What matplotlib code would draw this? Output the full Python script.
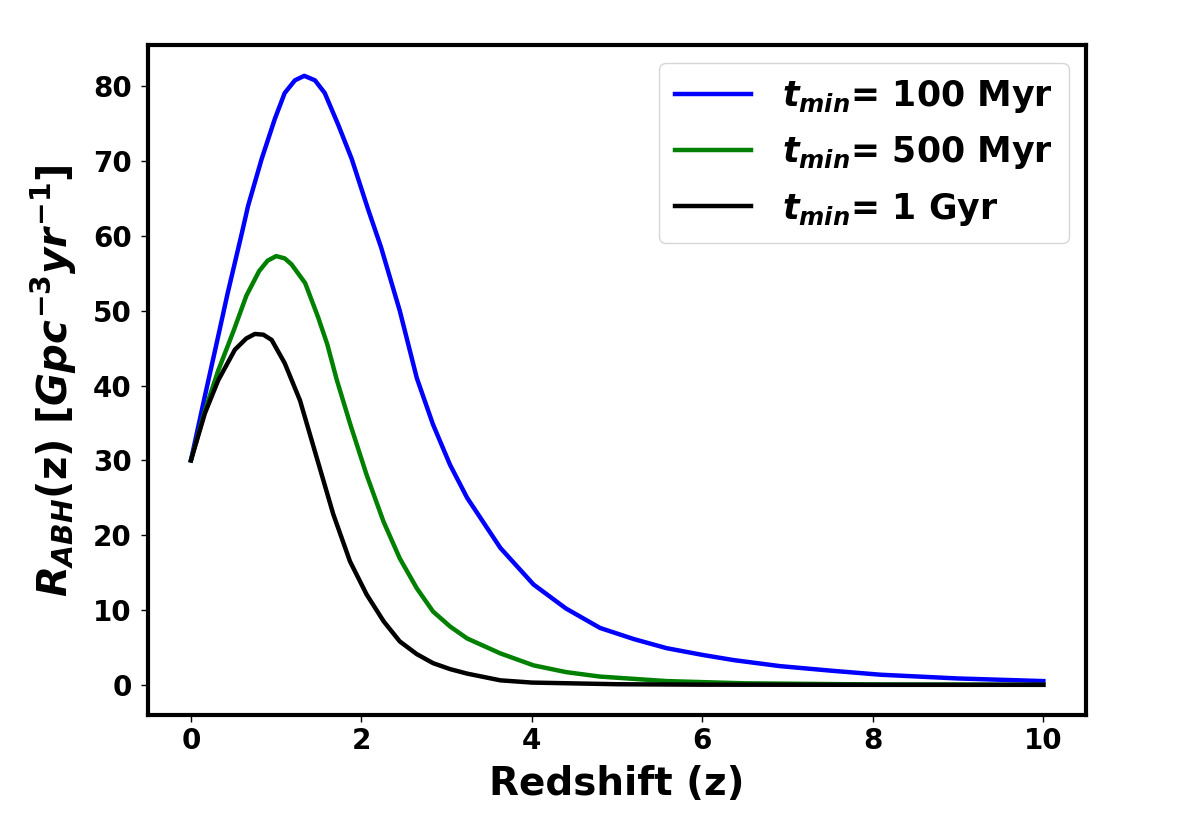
import numpy as np
import matplotlib
matplotlib.use('Agg')
import matplotlib.pyplot as plt

plt.rcParams['font.family'] = 'DejaVu Sans'
plt.rcParams['font.weight'] = 'bold'
plt.rcParams['mathtext.fontset'] = 'custom'
plt.rcParams['mathtext.rm'] = 'DejaVu Sans:bold'
plt.rcParams['mathtext.it'] = 'DejaVu Sans:bold:italic'
plt.rcParams['mathtext.bf'] = 'DejaVu Sans:bold'

# valores
z_100 = [0.0, 0.16, 0.32, 0.43, 0.6, 0.67, 0.83, 0.986, 1.1, 1.22, 1.33, 1.455, 1.57,
         1.73, 1.886, 2.08, 2.23, 2.45, 2.65, 2.84, 3.04, 3.24, 3.63, 4.02, 4.4,
         4.8, 5.2, 5.58, 6.0, 6.37, 6.91, 7.5, 8.09, 9.0, 10.0]
r_100 = [30.0, 38.4, 46.6, 52.3, 60.5, 64.0, 70.3, 75.7, 79.1, 80.8, 81.4, 80.8, 79.1,
         74.8, 70.3, 63.5, 58.5, 50.0, 41.0, 34.8, 29.4, 25.0, 18.3, 13.4, 10.2,
         7.6, 6.1, 4.9, 4.0, 3.3, 2.5, 1.9, 1.35, 0.85, 0.5]

z_500 = [0.0, 0.16, 0.32, 0.5, 0.65, 0.8, 0.9, 1.0, 1.1, 1.18, 1.34, 1.49, 1.6, 1.71,
         1.87, 2.06, 2.26, 2.45, 2.65, 2.84, 3.04, 3.24, 3.63, 4.02, 4.4, 4.8, 5.58,
         6.5, 8.0, 10.0]
r_500 = [30.0, 36.5, 42.0, 47.3, 52.0, 55.3, 56.7, 57.3, 57.0, 56.2, 53.7, 49.2, 45.5,
         40.8, 34.8, 28.1, 21.8, 16.9, 12.9, 9.8, 7.8, 6.2, 4.2, 2.6, 1.7, 1.1, 0.5,
         0.2, 0.05, 0.0]

z_1g = [0.0, 0.164, 0.32, 0.516, 0.65, 0.75, 0.85, 0.947, 1.1, 1.28, 1.475, 1.67,
        1.866, 2.06, 2.26, 2.45, 2.65, 2.84, 3.04, 3.24, 3.63, 4.0, 5.0, 6.0, 8.0, 10.0]
r_1g = [30.0, 36.3, 40.7, 44.8, 46.3, 46.9, 46.8, 46.1, 43.0, 38.0, 30.4, 22.8,
        16.5, 12.1, 8.5, 5.8, 4.1, 2.9, 2.1, 1.5, 0.6, 0.3, 0.08, 0.02, 0.0, 0.0]

fig = plt.figure(figsize=(11.96, 8.25), dpi=100)
ax = fig.add_axes([0.124, 0.133, 0.784, 0.812])

ax.plot(z_100, r_100, color='b', lw=3.2, label=r'$t_{min}$= 100 Myr')
ax.plot(z_500, r_500, color='g', lw=3.2, label=r'$t_{min}$= 500 Myr')
ax.plot(z_1g, r_1g, color='k', lw=3.2, label=r'$t_{min}$= 1 Gyr')

ax.set_xticks([0, 2, 4, 6, 8, 10])
ax.set_yticks([0, 10, 20, 30, 40, 50, 60, 70, 80])
ax.tick_params(labelsize=20, width=1, length=5)
ax.tick_params(axis='y', pad=7)
for s in ax.spines.values():
    s.set_linewidth(3)

ax.set_xlabel('Redshift (z)', fontsize=28, fontweight='bold', labelpad=7)
ax.set_ylabel(r'$R_{ABH}$(z) [$Gpc^{-3}yr^{-1}$]', fontsize=29, fontweight='bold',
              labelpad=10)

ax.legend(loc='upper right', fontsize=25, handlelength=2.2, labelspacing=0.55,
          handletextpad=0.9, borderpad=0.45)

plt.savefig('out.png', dpi=100)
